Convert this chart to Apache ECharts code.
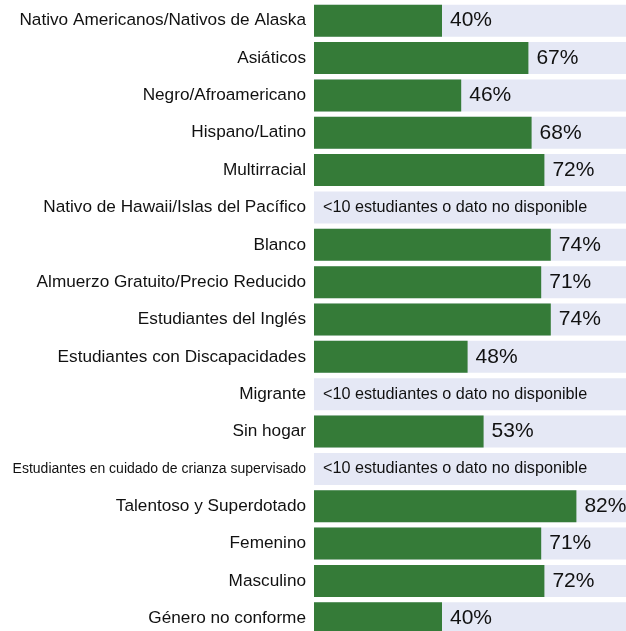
<!DOCTYPE html>
<html>
<head>
<meta charset="utf-8">
<script src="https://cdn.jsdelivr.net/npm/echarts@6/dist/echarts.min.js"></script>
<style>
html, body { margin: 0; padding: 0; background: #fff; overflow: hidden; }
#chart { width: 640px; height: 640px; }
</style>
</head>
<body>
<div id="chart"></div>
<script>
var categories = [
    "Nativo Americanos/Nativos de Alaska",
    "Asiáticos",
    "Negro/Afroamericano",
    "Hispano/Latino",
    "Multirracial",
    "Nativo de Hawaii/Islas del Pacífico",
    "Blanco",
    "Almuerzo Gratuito/Precio Reducido",
    "Estudiantes del Inglés",
    "Estudiantes con Discapacidades",
    "Migrante",
    "Sin hogar",
    "Estudiantes en cuidado de crianza supervisado",
    "Talentoso y Superdotado",
    "Femenino",
    "Masculino",
    "Género no conforme"
];
// null = <10 estudiantes o dato no disponible
var values = [40, 67, 46, 68, 72, null, 74, 71, 74, 48, null, 53, null, 82, 71, 72, 40];
var noDataText = "<10 estudiantes o dato no disponible";

var FONT = "'Liberation Sans', Arial, sans-serif";

var myChart = echarts.init(document.getElementById("chart"));

var yData = categories.map(function(c) {
    if (c.length > 40) {
        return { value: c, textStyle: { fontSize: 14 } };
    }
    return c;
});

var barData = values.map(function(v) {
    if (v === null) {
        return {
            value: 0,
            label: {
                show: true,
                position: "insideLeft",
                distance: 9,
                fontSize: 16.2,
                formatter: noDataText
            }
        };
    }
    return v;
});

myChart.setOption({
    animation: false,
    grid: { left: 314, top: 2, width: 320, height: 635 },
    xAxis: {
        type: "value",
        min: 0,
        max: 100,
        show: false
    },
    yAxis: {
        type: "category",
        inverse: true,
        data: yData,
        axisLine: { show: false },
        axisTick: { show: false },
        axisLabel: {
            margin: 8,
            fontSize: 17.2,
            color: "#111",
            fontFamily: FONT
        }
    },
    series: [{
        type: "bar",
        data: barData,
        barWidth: 32,
        itemStyle: { color: "#357b38" },
        showBackground: true,
        backgroundStyle: { color: "#e5e8f5" },
        label: {
            show: true,
            position: "right",
            distance: 8,
            fontSize: 21,
            color: "#111",
            fontFamily: FONT,
            formatter: function(p) { return p.value + "%"; }
        }
    }]
});
</script>
</body>
</html>
